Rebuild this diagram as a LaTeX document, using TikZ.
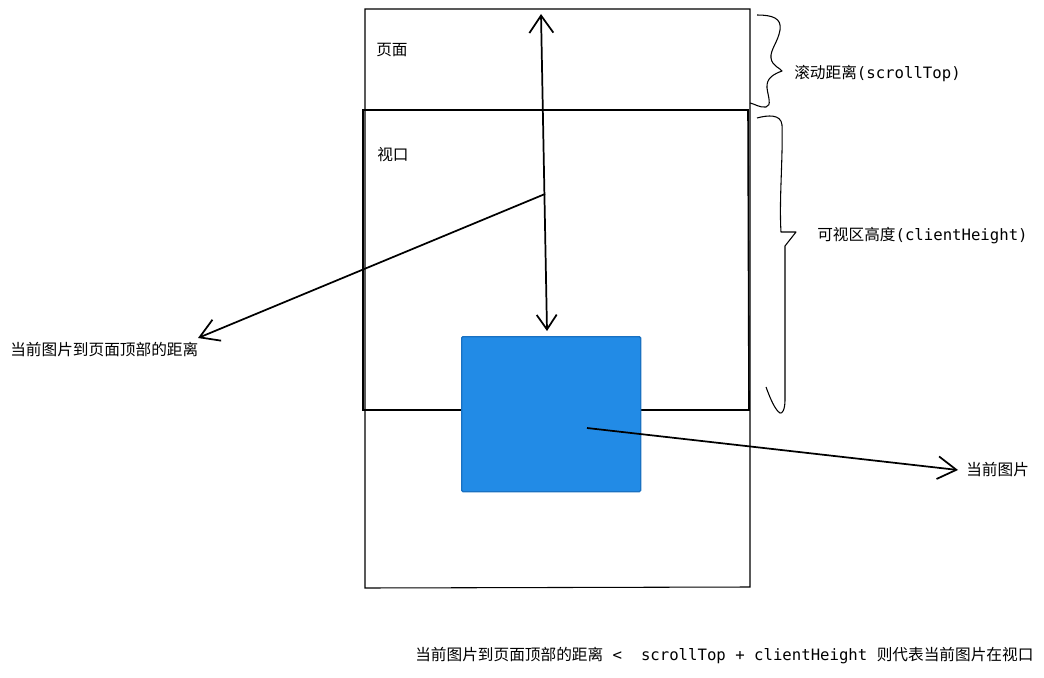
\documentclass[tikz,border=0pt]{standalone}
\usepackage{fontspec}
\setmainfont{DejaVu Sans Mono}
\newfontfamily\cjk{Noto Sans CJK SC}
\usetikzlibrary{arrows.meta}
\definecolor{imgblue}{HTML}{228BE6}
\definecolor{imgborder}{HTML}{1971C2}
\tikzset{
  lbl/.style={anchor=west, inner sep=0pt, font=\fontsize{11.75}{13}\selectfont},
  ptr/.style={line width=1.3pt, -{Straight Barb[length=14pt,width=17pt,line width=1.3pt]}},
  brace/.style={line width=0.8pt, line join=round},
}
\begin{document}
\begin{tikzpicture}[x=0.75pt,y=-0.75pt]
\useasboundingbox (0,0) rectangle (1044,677);
% page
\draw[line width=0.8pt] (365,9) -- (750,9) -- (750,587) -- (365,588) -- cycle;
% viewport
\draw[line width=1.2pt] (363,110) -- (748,110) -- (749,410) -- (363,410) -- cycle;
% image
\node[draw=imgborder, fill=imgblue, line width=1pt, rounded corners=1pt, minimum width=179*0.75pt, minimum height=155*0.75pt, anchor=north west, inner sep=0pt] (img) at (461,336) {};
% labels
\node[lbl] (page) at (376,50) {\cjk 页面};
\node[lbl] (view) at (377,155) {\cjk 视口};
\node[lbl] (st) at (794,73) {{\cjk 滚动距离}(scrollTop)};
\node[lbl] (ch) at (817,236) {{\cjk 可视区高度}(clientHeight)};
\node[lbl] (dist) at (10,350) {\cjk 当前图片到页面顶部的距离};
\node[lbl] (cur) at (966,470) {\cjk 当前图片};
\node[lbl] (formula) at (415,656) {{\cjk 当前图片到页面顶部的距离} <\ \ scrollTop + clientHeight {\cjk 则代表当前图片在视口}};
% coordinates
\coordinate (topT) at (541,14);
\coordinate (botT) at (547,331);
\coordinate (mid) at (545,194);
\coordinate (distT) at (198,338);
\coordinate (imgS) at (587,428);
\coordinate (curT) at (958,470);
% arrows
\draw[line width=1.3pt, {Straight Barb[length=13pt,width=18pt,line width=1.3pt]}-{Straight Barb[length=11pt,width=15pt,line width=1.3pt]}] (topT) -- (botT);
\draw[ptr] (mid) -- (distT);
\draw[ptr] (imgS) -- (curT);
% braces
\draw[brace] (757,15) .. controls (772,15) and (782,18) .. (780,30)
  .. controls (778,42) and (770,50) .. (771,58)
  .. controls (772,66) and (780,68) .. (782,71)
  .. controls (774,74) and (766,78) .. (767,88)
  .. controls (768,96) and (772,106) .. (766,107)
  .. controls (760,108) and (755,104) .. (750,103);
\draw[brace] (757,118) .. controls (768,115) and (781,114) .. (782,125)
  .. controls (783,160) and (779,200) .. (781,232)
  -- (796,232) -- (785,246)
  .. controls (785,300) and (785,360) .. (785,400)
  .. controls (785,410) and (782,414) .. (780,413)
  .. controls (775,410) and (770,398) .. (766,387);
\end{tikzpicture}
\end{document}
